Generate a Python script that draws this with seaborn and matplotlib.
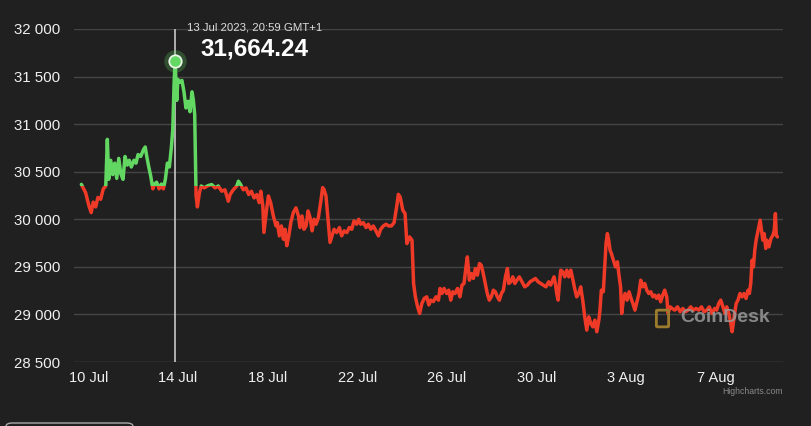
import numpy as np
import pandas as pd
import matplotlib
matplotlib.use("Agg")
import matplotlib.pyplot as plt
import matplotlib.dates as mdates
import matplotlib.transforms as mtransforms
from matplotlib.patches import Rectangle, FancyBboxPatch
import seaborn as sns

# ---- data ----
start_date = "2023-07-10"
days = [
    -0.31, -0.12, 0.03, 0.13, 0.22, 0.33, 0.43, 0.55, 0.67, 0.78, 0.85, 0.91, 1.00, 1.09, 1.18, 1.27,
    1.36, 1.45, 1.55, 1.64, 1.74, 1.83, 1.92, 2.04, 2.13, 2.22, 2.34, 2.46, 2.54, 2.61, 2.70, 2.79,
    2.88, 2.96, 3.05, 3.16, 3.26, 3.35, 3.44, 3.53, 3.62, 3.71, 3.77, 3.83, 3.874, 3.95, 4.00, 4.09,
    4.18, 4.27, 4.36, 4.45, 4.54, 4.63, 4.69, 4.75, 4.81, 4.87, 4.96, 5.04, 5.17, 5.36, 5.51, 5.66,
    5.80, 5.96, 6.10, 6.25, 6.33, 6.47, 6.63, 6.70, 6.80, 6.92, 7.04, 7.16, 7.28, 7.40, 7.52, 7.63,
    7.70, 7.79, 7.84, 7.96, 8.04, 8.14, 8.26, 8.38, 8.44, 8.53, 8.62, 8.71, 8.78, 8.86, 8.95, 9.04,
    9.15, 9.27, 9.38, 9.45, 9.54, 9.63, 9.72, 9.81, 9.90, 9.99, 10.08, 10.17, 10.27, 10.38, 10.46, 10.52,
    10.61, 10.70, 10.79, 10.88, 10.97, 11.09, 11.21, 11.31, 11.42, 11.54, 11.65, 11.76, 11.86, 11.98, 12.07, 12.16,
    12.28, 12.40, 12.50, 12.61, 12.72, 12.84, 12.95, 13.05, 13.17, 13.29, 13.41, 13.53, 13.65, 13.77, 13.84, 13.92,
    14.04, 14.14, 14.22, 14.34, 14.45, 14.52, 14.60, 14.70, 14.79, 14.89, 15.00, 15.11, 15.20, 15.29, 15.40, 15.52,
    15.63, 15.70, 15.79, 15.88, 16.00, 16.09, 16.18, 16.27, 16.37, 16.48, 16.59, 16.68, 16.77, 16.86, 16.92, 17.01,
    17.10, 17.19, 17.28, 17.37, 17.46, 17.54, 17.63, 17.72, 17.81, 17.90, 17.99, 18.08, 18.17, 18.26, 18.35, 18.44,
    18.53, 18.62, 18.71, 18.77, 18.86, 18.95, 19.04, 19.13, 19.24, 19.36, 19.48, 19.60, 19.72, 19.84, 19.96, 20.08,
    20.20, 20.31, 20.43, 20.55, 20.64, 20.73, 20.79, 20.85, 20.91, 20.97, 21.03, 21.09, 21.18, 21.27, 21.36, 21.45,
    21.54, 21.62, 21.71, 21.80, 21.89, 21.98, 22.07, 22.16, 22.25, 22.34, 22.43, 22.52, 22.61, 22.70, 22.79, 22.84,
    22.90, 22.99, 23.05, 23.11, 23.17, 23.23, 23.29, 23.35, 23.44, 23.53, 23.62, 23.68, 23.76, 23.81, 23.88, 23.96,
    24.05, 24.14, 24.23, 24.31, 24.40, 24.49, 24.58, 24.66, 24.75, 24.84, 24.93, 25.02, 25.11, 25.20, 25.28, 25.37,
    25.46, 25.55, 25.64, 25.73, 25.82, 25.88, 25.97, 26.06, 26.18, 26.30, 26.42, 26.54, 26.65, 26.77, 26.89, 27.01,
    27.13, 27.25, 27.37, 27.49, 27.61, 27.72, 27.84, 27.96, 28.05, 28.14, 28.23, 28.33, 28.42, 28.50, 28.59, 28.68,
    28.74, 28.83, 28.92, 29.00, 29.09, 29.18, 29.27, 29.36, 29.45, 29.51, 29.57, 29.63, 29.69, 29.75, 29.81, 29.90,
    29.99, 30.05, 30.11, 30.17, 30.24, 30.29, 30.38, 30.47, 30.56, 30.62, 30.67, 30.71, 30.76,
]
prices = [
    30367, 30280, 30140, 30070, 30180, 30130, 30230, 30210, 30320, 30350, 30840, 30420, 30620, 30470, 30590, 30430,
    30640, 30480, 30420, 30660, 30570, 30620, 30550, 30620, 30590, 30680, 30660, 30730, 30760, 30660, 30550, 30450,
    30320, 30370, 30390, 30320, 30370, 30320, 30420, 30590, 30550, 30760, 30940, 31430, 31664.24, 31250, 31470, 31440,
    31460, 31340, 31170, 31240, 31130, 31340, 31250, 31100, 30250, 30130, 30280, 30350, 30330, 30355, 30365, 30330,
    30350, 30295, 30310, 30190, 30260, 30310, 30350, 30400, 30365, 30310, 30330, 30260, 30295, 30225, 30260, 30175,
    30295, 30140, 29862, 30105, 30245, 30175, 30035, 29930, 29965, 29826, 29930, 29790, 29895, 29722, 29826, 29965,
    30070, 30120, 30035, 29913, 30035, 29895, 29930, 30088, 30018, 29878, 30000, 29948, 30018, 30190, 30333, 30315,
    30245, 30000, 29757, 29826, 29895, 29860, 29913, 29826, 29878, 29860, 29913, 29895, 29983, 29948, 30000, 29948,
    29965, 29913, 29948, 29895, 29930, 29878, 29826, 29895, 29930, 29948, 29930, 29930, 29965, 30140, 30262, 30235,
    30095, 30060, 29745, 29815, 29780, 29325, 29185, 29080, 29010, 29115, 29170, 29185, 29100, 29150, 29135, 29185,
    29150, 29273, 29220, 29273, 29220, 29255, 29150, 29238, 29220, 29273, 29185, 29308, 29325, 29500, 29605, 29360,
    29430, 29378, 29483, 29413, 29535, 29518, 29430, 29325, 29220, 29150, 29185, 29255, 29238, 29185, 29150, 29220,
    29255, 29395, 29483, 29325, 29343, 29395, 29325, 29360, 29395, 29343, 29290, 29308, 29343, 29360, 29378, 29343,
    29325, 29308, 29290, 29343, 29308, 29360, 29395, 29325, 29220, 29150, 29325, 29465, 29448, 29395, 29465, 29395,
    29465, 29378, 29273, 29185, 29220, 29290, 29150, 28975, 28835, 28975, 28905, 28870, 28940, 28818, 28940, 29045,
    29255, 29238, 29500, 29745, 29850, 29780, 29675, 29640, 29570, 29500, 29553, 29430, 29290, 29010, 29150, 29220,
    29150, 29238, 29168, 29115, 29045, 29133, 29220, 29360, 29290, 29325, 29255, 29220, 29238, 29185, 29203, 29168,
    29203, 29133, 29203, 29255, 29185, 29010, 29080, 29063, 29045, 29080, 29028, 29063, 29028, 29045, 29080, 29045,
    29063, 29045, 29080, 29028, 29045, 29080, 29010, 29063, 29045, 29115, 29150, 29080, 29010, 29080, 29010, 28905,
    28818, 28975, 29115, 29150, 29220, 29185, 29220, 29168, 29255, 29220, 29325, 29570, 29500, 29675, 29780, 29885,
    29990, 29885, 29780, 29850, 29693, 29780, 29710, 29797, 29833, 29885, 30060, 29833, 29815,
]
threshold = 30355
y_ticks = [28500, 29000, 29500, 30000, 30500, 31000, 31500, 32000]
x_tick_dates = ["2023-07-10", "2023-07-14", "2023-07-18", "2023-07-22",
                "2023-07-26", "2023-07-30", "2023-08-03", "2023-08-07"]
tooltip_title = "13 Jul 2023, 20:59 GMT+1"

# ---- styling ----
BG = "#202020"
GREEN = "#62d862"
RED = "#ee3a26"
TEXT = "#f0f0f0"

sns.set_theme(style="dark", rc={
    "figure.facecolor": BG, "axes.facecolor": BG, "savefig.facecolor": BG,
    "axes.edgecolor": BG, "text.color": TEXT, "xtick.color": TEXT, "ytick.color": TEXT,
})
plt.rcParams["font.family"] = ["Liberation Sans", "DejaVu Sans"]

t0 = pd.Timestamp(start_date)
df = pd.DataFrame({
    "time": t0 + pd.to_timedelta(np.array(days), unit="D"),
    "price": prices,
})

fig = plt.figure(figsize=(8.11, 4.26), dpi=100)
ax = fig.add_axes([74 / 811, 1 - 362 / 426, (783 - 74) / 811, (362 - 29) / 426])

# grid lines
for v in y_ticks:
    ax.axhline(v, color="#454545" if v != y_ticks[0] else "#5c5c5c", lw=1.0, zorder=0)

blend = mtransforms.blended_transform_factory(ax.transAxes, ax.transData)

sns.lineplot(data=df, x="time", y="price", ax=ax, color=RED, lw=2.5,
             estimator=None, sort=False, zorder=3)
red_line = ax.lines[-1]
sns.lineplot(data=df, x="time", y="price", ax=ax, color=GREEN, lw=2.5,
             estimator=None, sort=False, zorder=3)
green_line = ax.lines[-1]

clip_low = Rectangle((0, 20000), 1, threshold - 20000, transform=blend, fill=False, visible=False)
clip_high = Rectangle((0, threshold), 1, 50000 - threshold, transform=blend, fill=False, visible=False)
ax.add_patch(clip_low)
ax.add_patch(clip_high)
red_line.set_clip_path(clip_low)
green_line.set_clip_path(clip_high)

# peak / hover
imax = int(np.argmax(prices))
pk_t = df["time"].iloc[imax]
pk_v = prices[imax]
ax.axvline(pk_t, color="#c8c8c8", lw=1.2, zorder=2)
ax.scatter([pk_t], [pk_v], s=260, color=GREEN, alpha=0.25, zorder=4, linewidths=0)
ax.scatter([pk_t], [pk_v], s=80, color=GREEN, edgecolor="#e8f5e8", linewidths=1.3, zorder=5)

ax.set_ylim(28500, 32000)
ax.set_xlim(t0 + pd.Timedelta(days=-0.638), t0 + pd.Timedelta(days=31.01))
ax.set_yticks(y_ticks)
ax.set_yticklabels([f"{v:,}".replace(",", " ") for v in y_ticks])
ax.set_xticks(pd.to_datetime(x_tick_dates))
ax.xaxis.set_major_formatter(mdates.DateFormatter("%-d %b"))
ax.tick_params(axis="y", length=0, pad=10, labelsize=10.8, labelcolor=TEXT)
ax.tick_params(axis="x", length=0, pad=6.5, labelsize=10.5, labelcolor=TEXT)
ax.set_xlabel("")
ax.set_ylabel("")
ax.grid(False)
for s in ax.spines.values():
    s.set_visible(False)

# tooltip texts
fig.text(255 / 811, 1 - 27 / 426, tooltip_title, ha="center", va="center",
         fontsize=8.2, color="#dcdcdc")
fig.text(254 / 811, 1 - 49 / 426, f"{pk_v:,.2f}", ha="center", va="center",
         fontsize=17.5, fontweight="bold", color="#ffffff")

# watermark
fig.text(680 / 811, 1 - 318 / 426, "CoinDesk", ha="left", va="center",
         fontsize=14, fontweight="bold", color="#9a9a9a", alpha=0.85, zorder=6)
fig.patches.append(FancyBboxPatch((658 / 811, 1 - 326 / 426), 9 / 811, 15 / 426,
                                  boxstyle="round,pad=0.002", transform=fig.transFigure,
                                  fill=False, edgecolor="#9c7c2c", lw=2.0, figure=fig))

fig.text(783 / 811, 1 - 392 / 426, "Highcharts.com", ha="right", va="center",
         fontsize=6.2, color="#8a8a8a")

# partial box at bottom-left
fig.patches.append(FancyBboxPatch((6 / 811, -0.05), 127 / 811, 0.05 + 3 / 426,
                                  boxstyle="round,pad=0,rounding_size=0.008",
                                  transform=fig.transFigure, fill=False,
                                  edgecolor="#aaaaaa", lw=1.0, figure=fig))

fig.savefig("out.png", dpi=100, facecolor=BG)
